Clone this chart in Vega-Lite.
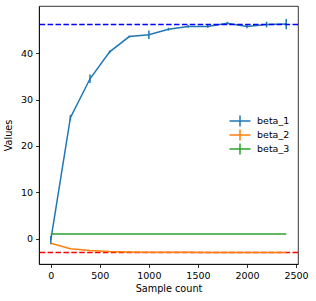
{
  "$schema": "https://vega.github.io/schema/vega-lite/v6.json",
  "width": 259,
  "height": 258,
  "autosize": {"type": "none"},
  "padding": {"left": 39, "top": 6, "right": 18, "bottom": 37},
  "config": {
    "font": "DejaVu Sans",
    "view": {"stroke": "black", "strokeWidth": 0.8},
    "axis": {
      "grid": false,
      "domainColor": "black",
      "domainWidth": 0.8,
      "tickColor": "black",
      "tickWidth": 0.8,
      "tickSize": 3.5,
      "labelFont": "DejaVu Sans",
      "labelFontSize": 9.5,
      "labelColor": "black",
      "labelPadding": 3,
      "titleFont": "DejaVu Sans",
      "titleFontSize": 9.7,
      "titleFontWeight": "normal",
      "titleColor": "black"
    }
  },
  "datasets": {
    "series": [
      {"series": "beta_1", "n": 0, "value": -0.3, "lo": -1.2, "hi": 0.6},
      {"series": "beta_1", "n": 200, "value": 26.1, "lo": 25.5, "hi": 26.7},
      {"series": "beta_1", "n": 400, "value": 34.5, "lo": 33.6, "hi": 35.4},
      {"series": "beta_1", "n": 600, "value": 40.3, "lo": 40.0, "hi": 40.6},
      {"series": "beta_1", "n": 800, "value": 43.6, "lo": 43.4, "hi": 43.8},
      {"series": "beta_1", "n": 1000, "value": 44.0, "lo": 43.1, "hi": 44.9},
      {"series": "beta_1", "n": 1200, "value": 45.2, "lo": 44.9, "hi": 45.5},
      {"series": "beta_1", "n": 1400, "value": 45.8, "lo": 45.5, "hi": 46.1},
      {"series": "beta_1", "n": 1600, "value": 45.8, "lo": 45.5, "hi": 46.1},
      {"series": "beta_1", "n": 1800, "value": 46.5, "lo": 46.2, "hi": 46.8},
      {"series": "beta_1", "n": 2000, "value": 45.8, "lo": 45.4, "hi": 46.2},
      {"series": "beta_1", "n": 2200, "value": 46.2, "lo": 45.6, "hi": 46.8},
      {"series": "beta_1", "n": 2400, "value": 46.3, "lo": 45.2, "hi": 47.4},
      {"series": "beta_2", "n": 0, "value": -1.0, "lo": -1.05, "hi": -0.95},
      {"series": "beta_2", "n": 200, "value": -2.15, "lo": -2.2, "hi": -2.1},
      {"series": "beta_2", "n": 400, "value": -2.55, "lo": -2.6, "hi": -2.5},
      {"series": "beta_2", "n": 600, "value": -2.75, "lo": -2.8, "hi": -2.7},
      {"series": "beta_2", "n": 800, "value": -2.85, "lo": -2.9, "hi": -2.8},
      {"series": "beta_2", "n": 1000, "value": -2.9, "lo": -2.95, "hi": -2.85},
      {"series": "beta_2", "n": 1200, "value": -2.95, "lo": -3.0, "hi": -2.9},
      {"series": "beta_2", "n": 1400, "value": -2.95, "lo": -3.0, "hi": -2.9},
      {"series": "beta_2", "n": 1600, "value": -2.97, "lo": -3.0, "hi": -2.94},
      {"series": "beta_2", "n": 1800, "value": -2.97, "lo": -3.0, "hi": -2.94},
      {"series": "beta_2", "n": 2000, "value": -2.98, "lo": -3.0, "hi": -2.96},
      {"series": "beta_2", "n": 2200, "value": -2.98, "lo": -3.0, "hi": -2.96},
      {"series": "beta_2", "n": 2400, "value": -2.98, "lo": -3.0, "hi": -2.96},
      {"series": "beta_3", "n": 0, "value": 1.0, "lo": 1.0, "hi": 1.0},
      {"series": "beta_3", "n": 200, "value": 1.0, "lo": 1.0, "hi": 1.0},
      {"series": "beta_3", "n": 400, "value": 1.0, "lo": 1.0, "hi": 1.0},
      {"series": "beta_3", "n": 600, "value": 1.0, "lo": 1.0, "hi": 1.0},
      {"series": "beta_3", "n": 800, "value": 1.0, "lo": 1.0, "hi": 1.0},
      {"series": "beta_3", "n": 1000, "value": 1.0, "lo": 1.0, "hi": 1.0},
      {"series": "beta_3", "n": 1200, "value": 1.0, "lo": 1.0, "hi": 1.0},
      {"series": "beta_3", "n": 1400, "value": 1.0, "lo": 1.0, "hi": 1.0},
      {"series": "beta_3", "n": 1600, "value": 1.0, "lo": 1.0, "hi": 1.0},
      {"series": "beta_3", "n": 1800, "value": 1.0, "lo": 1.0, "hi": 1.0},
      {"series": "beta_3", "n": 2000, "value": 1.0, "lo": 1.0, "hi": 1.0},
      {"series": "beta_3", "n": 2200, "value": 1.0, "lo": 1.0, "hi": 1.0},
      {"series": "beta_3", "n": 2400, "value": 1.0, "lo": 1.0, "hi": 1.0}
    ],
    "refRed": [{"y": -3.0}],
    "refBlue": [{"y": 46.2}]
  },
  "layer": [
    {
      "data": {"name": "refRed"},
      "mark": {"type": "rule", "color": "#ff0000", "strokeWidth": 1.5, "strokeDash": [5.5, 2.4]},
      "encoding": {"y": {"field": "y", "type": "quantitative"}}
    },
    {
      "data": {"name": "series"},
      "mark": {"type": "line", "strokeWidth": 1.5},
      "encoding": {
        "x": {
          "field": "n", "type": "quantitative", "title": "Sample count",
          "scale": {"domain": [-120, 2520], "nice": false, "zero": false},
          "axis": {"values": [0, 500, 1000, 1500, 2000, 2500], "format": "d", "titlePadding": 3}
        },
        "y": {
          "field": "value", "type": "quantitative", "title": "Values",
          "scale": {"domain": [-5.46, 50.2], "nice": false, "zero": false},
          "axis": {"values": [0, 10, 20, 30, 40], "titlePadding": 7}
        },
        "color": {
          "field": "series", "type": "nominal", "title": null,
          "scale": {"domain": ["beta_1", "beta_2", "beta_3"], "range": ["#1f77b4", "#ff7f0e", "#2ca02c"]},
          "legend": {
            "orient": "none",
            "legendX": 196,
            "legendY": 110,
            "padding": 0,
            "symbolType": "M-2.625,0H2.625M0,-1.35V1.35",
            "symbolSize": 64,
            "symbolStrokeWidth": 1.5,
            "symbolFillColor": "transparent",
            "labelFontSize": 9.5,
            "labelFont": "DejaVu Sans",
            "labelColor": "black",
            "labelOffset": 12,
            "rowPadding": -8.5
          }
        }
      }
    },
    {
      "data": {"name": "series"},
      "mark": {"type": "rule", "strokeWidth": 1.5},
      "encoding": {
        "x": {"field": "n", "type": "quantitative"},
        "y": {"field": "lo", "type": "quantitative"},
        "y2": {"field": "hi"},
        "color": {"field": "series", "type": "nominal"}
      }
    },
    {
      "data": {"name": "refBlue"},
      "mark": {"type": "rule", "color": "#0000ff", "strokeWidth": 1.5, "strokeDash": [5.5, 2.4]},
      "encoding": {"y": {"field": "y", "type": "quantitative"}}
    }
  ]
}
